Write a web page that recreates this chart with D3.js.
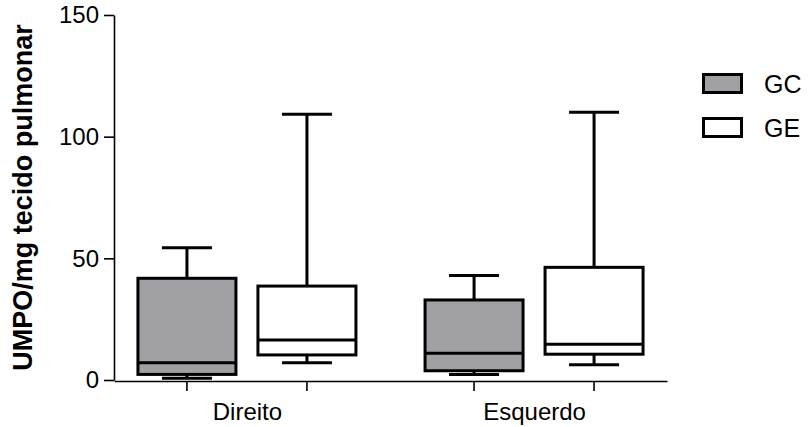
<!DOCTYPE html>
<html>
<head>
<meta charset="utf-8">
<script src="https://cdn.jsdelivr.net/npm/d3@7"></script>
<style>
  body { margin: 0; background: #fff; }
  text { font-family: "Liberation Sans", Arial, sans-serif; }
</style>
</head>
<body>
<svg id="chart" width="809" height="427"></svg>
<script>
// box plot data
let categories = ["Direito", "Esquerdo"]
let series = ["GC", "GE"]
let seriesFill = ["#a0a0a4", "#ffffff"]

let gcMin = [0.7, 2.3]
let gcQ1 = [2.3, 3.8]
let gcMed = [7.1, 11.0]
let gcQ3 = [41.8, 32.9]
let gcMax = [54.4, 42.9]

let geMin = [7.1, 6.3]
let geQ1 = [10.3, 10.6]
let geMed = [16.4, 14.7]
let geQ3 = [38.6, 46.3]
let geMax = [109.2, 110]

let yTicks = [0, 50, 100, 150]
let yLabel = "UMPO/mg tecido pulmonar"

let stats = {
    GC: { min: gcMin, q1: gcQ1, med: gcMed, q3: gcQ3, max: gcMax },
    GE: { min: geMin, q1: geQ1, med: geMed, q3: geQ3, max: geMax }
}

let boxes = []
categories.forEach((c, i) => {
    series.forEach((s, j) => {
        let st = stats[s]
        boxes.push({ cat: c, s: s, fill: seriesFill[j],
            min: st.min[i], q1: st.q1[i], med: st.med[i], q3: st.q3[i], max: st.max[i] })
    })
})

let svg = d3.select("#chart")
let mLeft = 114, mRight = 667, mTop = 15, mBottom = 380

let x0 = d3.scalePoint().domain(categories).range([mLeft, mRight]).padding(0.463)
let x1 = d3.scalePoint().domain(series).range([-60, 60])
let y = d3.scaleLinear().domain([0, 150]).range([mBottom, mTop])

let boxW = 98, capW = 50

// y axis
let yAxis = svg.append("g")
    .attr("transform", "translate(" + mLeft + ",0)")
    .call(d3.axisLeft(y).tickValues(yTicks).tickSize(10).tickSizeOuter(0).tickPadding(5))
yAxis.selectAll("path, line").attr("stroke", "#000").attr("stroke-width", 1.6)
yAxis.selectAll("text").attr("font-size", "24px").attr("fill", "#000")
    .attr("font-family", "Liberation Sans, Arial, sans-serif")

// x axis
let xAxis = svg.append("g")
    .attr("transform", "translate(0," + (mBottom + 1) + ")")
    .call(d3.axisBottom(x0).tickSize(0).tickSizeOuter(0).tickPadding(22))
xAxis.select(".domain").attr("stroke", "#000").attr("stroke-width", 1.6)
xAxis.selectAll("text").attr("font-size", "24px").attr("fill", "#000")
    .attr("font-family", "Liberation Sans, Arial, sans-serif")

xAxis.selectAll("boxtick")
    .data(boxes)
    .enter()
    .append("line")
    .attr("x1", (d) => x0(d.cat) + x1(d.s))
    .attr("x2", (d) => x0(d.cat) + x1(d.s))
    .attr("y1", 0)
    .attr("y2", 10)
    .attr("stroke", "#000")
    .attr("stroke-width", 1.6)

// y label
svg.append("text")
    .attr("transform", "translate(32," + ((mTop + mBottom) / 2) + ") rotate(-90)")
    .attr("text-anchor", "middle")
    .attr("font-size", "27px")
    .attr("font-weight", "bold")
    .text(yLabel)

// boxes
let g = svg.append("g")
let bx = g.selectAll(".box")
    .data(boxes)
    .enter()
    .append("g")
    .attr("transform", (d) => "translate(" + (x0(d.cat) + x1(d.s)) + ",0)")

bx.append("line")
    .attr("x1", 0).attr("x2", 0)
    .attr("y1", (d) => y(d.q3)).attr("y2", (d) => y(d.max))
    .attr("stroke", "#000").attr("stroke-width", 3)
bx.append("line")
    .attr("x1", 0).attr("x2", 0)
    .attr("y1", (d) => y(d.q1)).attr("y2", (d) => y(d.min))
    .attr("stroke", "#000").attr("stroke-width", 3)
bx.append("line")
    .attr("x1", -capW / 2).attr("x2", capW / 2)
    .attr("y1", (d) => y(d.max)).attr("y2", (d) => y(d.max))
    .attr("stroke", "#000").attr("stroke-width", 3)
bx.append("line")
    .attr("x1", -capW / 2).attr("x2", capW / 2)
    .attr("y1", (d) => y(d.min)).attr("y2", (d) => y(d.min))
    .attr("stroke", "#000").attr("stroke-width", 3)
bx.append("rect")
    .attr("x", -boxW / 2)
    .attr("width", boxW)
    .attr("y", (d) => y(d.q3))
    .attr("height", (d) => y(d.q1) - y(d.q3))
    .attr("fill", (d) => d.fill)
    .attr("stroke", "#000").attr("stroke-width", 3)
bx.append("line")
    .attr("x1", -boxW / 2).attr("x2", boxW / 2)
    .attr("y1", (d) => y(d.med)).attr("y2", (d) => y(d.med))
    .attr("stroke", "#000").attr("stroke-width", 3)

// legend
let leg = svg.append("g").attr("transform", "translate(702,73)")
let li = leg.selectAll(".li")
    .data(series)
    .enter()
    .append("g")
    .attr("transform", (d, i) => "translate(0," + (i * 44) + ")")
li.append("rect")
    .attr("x", 1.5).attr("y", 1.5)
    .attr("width", 38).attr("height", 18)
    .attr("fill", (d, i) => seriesFill[i])
    .attr("stroke", "#000").attr("stroke-width", 3)
li.append("text")
    .attr("x", 62).attr("y", 20)
    .attr("font-size", "25px")
    .text((d) => d)
</script>
</body>
</html>
